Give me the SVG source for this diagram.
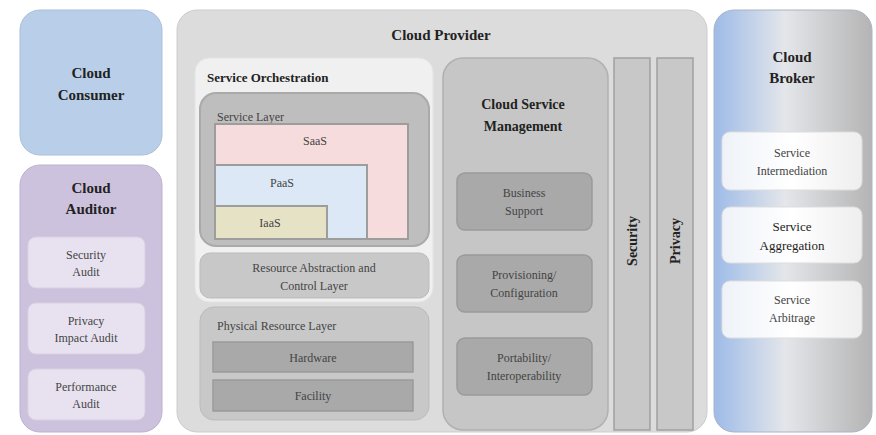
<svg xmlns="http://www.w3.org/2000/svg" width="876" height="435" viewBox="0 0 876 435">
<defs>
<linearGradient id="broker" x1="0" y1="0" x2="1" y2="0">
<stop offset="0" stop-color="#9dbbe8"/>
<stop offset="0.45" stop-color="#e4e6ea"/>
<stop offset="1" stop-color="#b4b4b4"/>
</linearGradient>
<linearGradient id="brokerItem" x1="0" y1="0" x2="1" y2="0">
<stop offset="0" stop-color="#eef2f8"/>
<stop offset="0.5" stop-color="#ffffff"/>
<stop offset="1" stop-color="#eeeeee"/>
</linearGradient>
</defs>
<style>
.t{font-family:"Liberation Serif",serif;fill:#222;text-anchor:middle}
.b{font-weight:bold}
.h{font-size:15px;font-weight:bold}
.s{font-size:12px;fill:#444}
.l{text-anchor:start}
.grey{fill:#a9a9a9;stroke:#9a9a9a;stroke-width:1.5}
</style>
<rect width="876" height="435" fill="#ffffff"/>

<g id="cloud-consumer">
<rect x="20" y="10" width="142" height="145" rx="20" fill="#b9cfe9" stroke="#aabfd9"/>
<text class="t h" x="91" y="78">Cloud</text>
<text class="t h" x="91" y="100">Consumer</text>
</g>

<g id="cloud-auditor">
<rect x="20" y="165" width="142" height="267" rx="20" fill="#cdc2de" stroke="#bdb2ce"/>
<text class="t h" x="91" y="193">Cloud</text>
<text class="t h" x="91" y="214">Auditor</text>
<g id="security-audit">
<rect x="28" y="237" width="117" height="51" rx="8" fill="#e8e2f0" stroke="#d8d0e4"/>
<text class="t s" x="86" y="259">Security</text>
<text class="t s" x="86" y="276">Audit</text>
</g>
<g id="privacy-impact-audit">
<rect x="28" y="303" width="117" height="51" rx="8" fill="#e8e2f0" stroke="#d8d0e4"/>
<text class="t s" x="86" y="325">Privacy</text>
<text class="t s" x="86" y="342">Impact Audit</text>
</g>
<g id="performance-audit">
<rect x="28" y="369" width="117" height="51" rx="8" fill="#e8e2f0" stroke="#d8d0e4"/>
<text class="t s" x="86" y="391">Performance</text>
<text class="t s" x="86" y="408">Audit</text>
</g>
</g>

<g id="cloud-provider">
<rect x="177" y="10" width="530" height="422" rx="20" fill="#dcdcdc" stroke="#cccccc"/>
<text class="t h" x="441" y="40">Cloud Provider</text>

<g id="service-orchestration">
<rect x="195" y="58" width="238" height="244" rx="14" fill="#f0f0f0" stroke="#e4e4e4"/>
<text class="t b l" x="207" y="82" font-size="13">Service Orchestration</text>

<g id="service-layer">
<rect x="200" y="93" width="229" height="153" rx="16" fill="#bebebe" stroke="#aaaaaa" stroke-width="2"/>
<text class="t s l" x="217" y="121" fill="#333">Service Layer</text>
<g id="saas">
<rect x="215" y="124" width="193" height="115" fill="#f6dcdc" stroke="#9d9d9d" stroke-width="2"/>
<text class="t s" x="315" y="145">SaaS</text>
</g>
<g id="paas">
<rect x="215" y="165" width="152" height="74" fill="#dce8f6" stroke="#9d9d9d" stroke-width="2"/>
<text class="t s" x="282" y="187">PaaS</text>
</g>
<g id="iaas">
<rect x="215" y="206" width="112" height="33" fill="#e6e2c6" stroke="#9d9d9d" stroke-width="2"/>
<text class="t s" x="270" y="227">IaaS</text>
</g>
</g>

<g id="resource-abstraction">
<rect x="200" y="253" width="229" height="45" rx="10" fill="#c8c8c8" stroke="#bbbbbb"/>
<text class="t s" x="314" y="272" fill="#333">Resource Abstraction and</text>
<text class="t s" x="314" y="290" fill="#333">Control Layer</text>
</g>
</g>

<g id="physical-resource-layer">
<rect x="200" y="307" width="229" height="113" rx="14" fill="#c8c8c8" stroke="#bbbbbb"/>
<text class="t s l" x="217" y="330" fill="#333">Physical Resource Layer</text>
<g id="hardware">
<rect x="213" y="342" width="200" height="30" class="grey"/>
<text class="t s" x="313" y="362">Hardware</text>
</g>
<g id="facility">
<rect x="213" y="380" width="200" height="31" class="grey"/>
<text class="t s" x="313" y="400">Facility</text>
</g>
</g>

<g id="cloud-service-management">
<rect x="443" y="58" width="165" height="372" rx="20" fill="#c6c6c6" stroke="#b0b0b0" stroke-width="1.5"/>
<text class="t b" x="523" y="109" font-size="14">Cloud Service</text>
<text class="t b" x="523" y="131" font-size="14">Management</text>
<g id="business-support">
<rect x="457" y="173" width="135" height="57" rx="8" class="grey"/>
<text class="t s" x="524" y="197">Business</text>
<text class="t s" x="524" y="215">Support</text>
</g>
<g id="provisioning">
<rect x="457" y="255" width="135" height="57" rx="8" class="grey"/>
<text class="t s" x="524" y="279">Provisioning/</text>
<text class="t s" x="524" y="297">Configuration</text>
</g>
<g id="portability">
<rect x="457" y="338" width="135" height="57" rx="8" class="grey"/>
<text class="t s" x="524" y="362">Portability/</text>
<text class="t s" x="524" y="380">Interoperability</text>
</g>
</g>

<g id="security">
<rect x="614" y="58" width="36" height="372" fill="#c8c8c8" stroke="#a0a0a0" stroke-width="1.5"/>
<text class="t b" font-size="14" transform="translate(637,241) rotate(-90)">Security</text>
</g>
<g id="privacy">
<rect x="657" y="58" width="36" height="372" fill="#c8c8c8" stroke="#a0a0a0" stroke-width="1.5"/>
<text class="t b" font-size="14" transform="translate(680,241) rotate(-90)">Privacy</text>
</g>
</g>

<g id="cloud-broker">
<rect x="714" y="10" width="158" height="422" rx="20" fill="url(#broker)" stroke="#aab4c4"/>
<text class="t h" x="792" y="62">Cloud</text>
<text class="t h" x="792" y="83">Broker</text>
<g id="service-intermediation">
<rect x="722" y="132" width="140" height="58" rx="8" fill="url(#brokerItem)" stroke="#dddddd"/>
<text class="t s" x="792" y="157">Service</text>
<text class="t s" x="792" y="175">Intermediation</text>
</g>
<g id="service-aggregation">
<rect x="722" y="207" width="140" height="56" rx="8" fill="url(#brokerItem)" stroke="#dddddd"/>
<text class="t" x="792" y="231" font-size="13" fill="#333">Service</text>
<text class="t" x="792" y="250" font-size="13" fill="#333">Aggregation</text>
</g>
<g id="service-arbitrage">
<rect x="722" y="281" width="140" height="57" rx="8" fill="url(#brokerItem)" stroke="#dddddd"/>
<text class="t s" x="792" y="304">Service</text>
<text class="t s" x="792" y="322">Arbitrage</text>
</g>
</g>
</svg>
